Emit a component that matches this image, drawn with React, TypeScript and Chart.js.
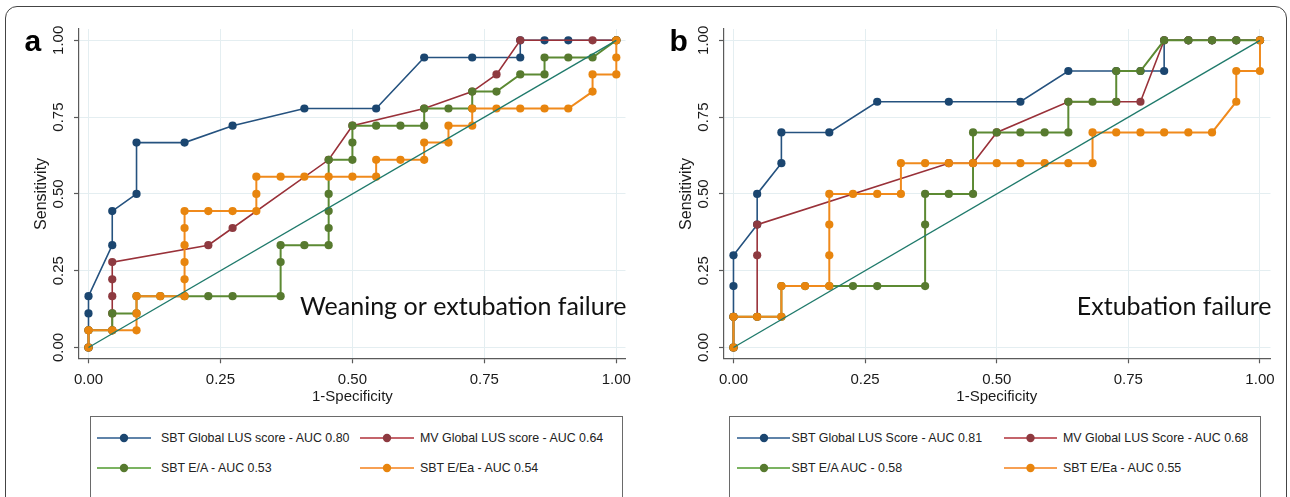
import React, { useEffect, useRef } from 'react';
import { Chart, registerables } from 'chart.js';

Chart.register(...registerables);

type Pt = [number, number];

// ---------- data ----------
const TICK_VALUES = [0, 0.25, 0.5, 0.75, 1];
const TICK_LABELS = ['0.00', '0.25', '0.50', '0.75', '1.00'];
const X_TITLE = '1-Specificity';
const Y_TITLE = 'Sensitivity';
const REF_LINE: Pt[] = [[0, 0], [1, 1]];

// Panel a: Weaning or extubation failure
const A_SBT_LUS: Pt[] = [
  [0, 0], [0, 0.111], [0, 0.167], [0.045, 0.333], [0.045, 0.444], [0.091, 0.5], [0.091, 0.667],
  [0.182, 0.667], [0.273, 0.722], [0.409, 0.778], [0.545, 0.778], [0.636, 0.944], [0.727, 0.944],
  [0.818, 0.944], [0.818, 1], [0.864, 1], [0.909, 1], [1, 1],
];
const A_MV_LUS: Pt[] = [
  [0, 0], [0, 0.056], [0.045, 0.056], [0.045, 0.111], [0.045, 0.167], [0.045, 0.222], [0.045, 0.278],
  [0.227, 0.333], [0.273, 0.389], [0.455, 0.611], [0.5, 0.722], [0.636, 0.778], [0.727, 0.833],
  [0.773, 0.889], [0.818, 1], [0.955, 1], [1, 1],
];
const A_SBT_EA: Pt[] = [
  [0, 0], [0, 0.056], [0.045, 0.056], [0.045, 0.111], [0.091, 0.111], [0.091, 0.167], [0.136, 0.167],
  [0.182, 0.167], [0.227, 0.167], [0.273, 0.167], [0.364, 0.167], [0.364, 0.278], [0.364, 0.333],
  [0.409, 0.333], [0.455, 0.333], [0.455, 0.389], [0.455, 0.444], [0.455, 0.5], [0.455, 0.611],
  [0.5, 0.611], [0.5, 0.667], [0.5, 0.722], [0.545, 0.722], [0.591, 0.722], [0.636, 0.722],
  [0.636, 0.778], [0.682, 0.778], [0.727, 0.778], [0.727, 0.833], [0.773, 0.833], [0.818, 0.889],
  [0.864, 0.889], [0.864, 0.944], [0.909, 0.944], [0.955, 0.944], [1, 1],
];
const A_SBT_EEA: Pt[] = [
  [0, 0], [0, 0.056], [0.045, 0.056], [0.091, 0.056], [0.091, 0.111], [0.091, 0.167], [0.136, 0.167],
  [0.182, 0.167], [0.182, 0.222], [0.182, 0.278], [0.182, 0.333], [0.182, 0.389], [0.182, 0.444],
  [0.227, 0.444], [0.273, 0.444], [0.318, 0.444], [0.318, 0.5], [0.318, 0.556], [0.364, 0.556],
  [0.409, 0.556], [0.455, 0.556], [0.5, 0.556], [0.545, 0.556], [0.545, 0.611], [0.591, 0.611],
  [0.636, 0.611], [0.636, 0.667], [0.682, 0.667], [0.682, 0.722], [0.727, 0.722], [0.727, 0.778],
  [0.773, 0.778], [0.818, 0.778], [0.864, 0.778], [0.909, 0.778], [0.955, 0.833], [0.955, 0.889],
  [1, 0.889], [1, 0.944], [1, 1],
];
const A_LEGEND = [
  'SBT Global LUS score - AUC 0.80',
  'MV Global LUS score - AUC 0.64',
  'SBT E/A - AUC 0.53',
  'SBT E/Ea - AUC 0.54',
];
const A_NOTE = 'Weaning or extubation failure';

// Panel b: Extubation failure
const B_SBT_LUS: Pt[] = [
  [0, 0], [0, 0.1], [0, 0.2], [0, 0.3], [0.045, 0.4], [0.045, 0.5], [0.091, 0.6], [0.091, 0.7],
  [0.182, 0.7], [0.273, 0.8], [0.409, 0.8], [0.545, 0.8], [0.636, 0.9], [0.727, 0.9], [0.773, 0.9],
  [0.818, 0.9], [0.818, 1], [0.864, 1], [0.909, 1], [0.955, 1], [1, 1],
];
const B_MV_LUS: Pt[] = [
  [0, 0], [0, 0.1], [0.045, 0.1], [0.045, 0.3], [0.045, 0.4], [0.409, 0.6], [0.455, 0.6], [0.5, 0.7],
  [0.636, 0.8], [0.727, 0.8], [0.773, 0.8], [0.818, 1], [0.864, 1], [0.909, 1], [0.955, 1], [1, 1],
];
const B_SBT_EA: Pt[] = [
  [0, 0], [0, 0.1], [0.045, 0.1], [0.091, 0.1], [0.091, 0.2], [0.136, 0.2], [0.182, 0.2], [0.227, 0.2],
  [0.273, 0.2], [0.364, 0.2], [0.364, 0.4], [0.364, 0.5], [0.409, 0.5], [0.455, 0.5], [0.455, 0.7],
  [0.5, 0.7], [0.545, 0.7], [0.591, 0.7], [0.636, 0.7], [0.636, 0.8], [0.682, 0.8], [0.727, 0.8],
  [0.727, 0.9], [0.773, 0.9], [0.818, 1], [0.864, 1], [0.909, 1], [0.955, 1], [1, 1],
];
const B_SBT_EEA: Pt[] = [
  [0, 0], [0, 0.1], [0.045, 0.1], [0.091, 0.1], [0.091, 0.2], [0.136, 0.2], [0.182, 0.2], [0.182, 0.3],
  [0.182, 0.4], [0.182, 0.5], [0.227, 0.5], [0.273, 0.5], [0.318, 0.5], [0.318, 0.6], [0.364, 0.6],
  [0.409, 0.6], [0.455, 0.6], [0.5, 0.6], [0.545, 0.6], [0.591, 0.6], [0.636, 0.6], [0.682, 0.6],
  [0.682, 0.7], [0.727, 0.7], [0.773, 0.7], [0.818, 0.7], [0.864, 0.7], [0.909, 0.7], [0.955, 0.8],
  [0.955, 0.9], [1, 0.9], [1, 1],
];
const B_LEGEND = [
  'SBT Global LUS Score - AUC 0.81',
  'MV Global LUS Score - AUC 0.68',
  'SBT E/A AUC - 0.58',
  'SBT E/Ea - AUC 0.55',
];
const B_NOTE = 'Extubation failure';

// ---------- styles ----------
const SERIES_STYLE = [
  { line: '#25527f', dot: '#1b4670', legendLine: '#2a5a8c', width: 1.6 },
  { line: '#993139', dot: '#8e3a40', legendLine: '#b0303a', width: 1.6 },
  { line: '#5c8a33', dot: '#577a2f', legendLine: '#4f9a2c', width: 2 },
  { line: '#f08a1c', dot: '#e8850e', legendLine: '#f5801a', width: 2 },
];
const REF_COLOR = '#1f7a6b';
const GRID = '#e4eef1';
const AXIS = '#5a5a5a';
const FONT = '"Liberation Sans", Arial, Helvetica, sans-serif';

const panelText = {
  id: 'panelText',
  afterDraw(chart: any, _args: any, opts: any) {
    const { ctx, chartArea: ca, scales } = chart;
    const xs = scales.x;
    const ys = scales.y;
    ctx.save();
    ctx.fillStyle = '#1a1a1a';
    ctx.font = `15px ${FONT}`;
    ctx.textAlign = 'center';
    ctx.textBaseline = 'middle';
    TICK_VALUES.forEach((v, i) => {
      ctx.fillText(TICK_LABELS[i], xs.getPixelForValue(v), ca.bottom + 22);
      ctx.save();
      ctx.translate(ca.left - 20.5, ys.getPixelForValue(v));
      ctx.rotate(-Math.PI / 2);
      ctx.fillText(TICK_LABELS[i], 0, 0);
      ctx.restore();
    });
    const xMid = (xs.getPixelForValue(0) + xs.getPixelForValue(1)) / 2;
    ctx.fillText(X_TITLE, xMid, ca.bottom + 39);
    const yMid = (ys.getPixelForValue(0) + ys.getPixelForValue(1)) / 2;
    ctx.save();
    ctx.translate(ca.left - 37.5, yMid);
    ctx.rotate(-Math.PI / 2);
    ctx.font = `16px ${FONT}`;
    ctx.fillText(Y_TITLE, 0, 0);
    ctx.restore();

    ctx.font = '25px Lato, "Open Sans", sans-serif';
    ctx.fillStyle = '#111';
    ctx.textAlign = 'right';
    ctx.textBaseline = 'alphabetic';
    ctx.fillText(opts.note, ca.right + 1, 315);

    ctx.font = `bold 30px ${FONT}`;
    ctx.fillStyle = '#000';
    ctx.textAlign = 'left';
    ctx.fillText(opts.letter, 24.5, 51);
    ctx.restore();
  },
};

type LegendLayout = { boxLeft: number; boxWidth: number; cols: { l0: number; l1: number; m: number; t: number }[] };

function Panel(props: {
  left: number;
  letter: string;
  note: string;
  series: Pt[][];
  labels: string[];
  xMax: number;
  legend: LegendLayout;
}) {
  const ref = useRef<HTMLCanvasElement>(null);
  useEffect(() => {
    if (!ref.current) return;
    const datasets: any[] = props.series.map((pts, i) => ({
      label: props.labels[i],
      data: pts.map(([x, y]) => ({ x, y })),
      showLine: true,
      borderColor: SERIES_STYLE[i].line,
      borderWidth: SERIES_STYLE[i].width,
      backgroundColor: SERIES_STYLE[i].dot,
      pointBackgroundColor: SERIES_STYLE[i].dot,
      pointBorderWidth: 0,
      pointRadius: 4.1,
      order: 4 - i,
    }));
    datasets.push({
      label: 'reference',
      data: REF_LINE.map(([x, y]) => ({ x, y })),
      showLine: true,
      borderColor: REF_COLOR,
      borderWidth: 1.4,
      pointRadius: 0,
      order: 0,
    });
    const axis = (min: number, max: number) => ({
      type: 'linear' as const,
      min,
      max,
      afterBuildTicks: (s: any) => {
        s.ticks = TICK_VALUES.map((v) => ({ value: v }));
      },
      ticks: { display: false },
      grid: { color: GRID, lineWidth: 1, drawTicks: true, tickLength: 5, tickColor: AXIS, tickWidth: 1.2 },
      border: { display: true, color: AXIS, width: 1.2 },
    });
    const chart = new Chart(ref.current, {
      type: 'scatter',
      data: { datasets },
      options: {
        responsive: false,
        animation: false,
        events: [],
        layout: { padding: { left: 74, top: 29, right: 19.5, bottom: 46.7 }, autoPadding: false },
        plugins: {
          legend: { display: false },
          tooltip: { enabled: false },
          panelText: { note: props.note, letter: props.letter },
        } as any,
        scales: {
          x: axis(-0.018, props.xMax),
          y: axis(-0.0352, 1.0368),
        },
      },
      plugins: [panelText],
    });
    return () => chart.destroy();
  }, []);

  const L = props.legend;
  const rows = [21, 51];
  return (
    <div style={{ position: 'absolute', left: props.left, top: 0, width: 645, height: 497 }}>
      <canvas ref={ref} width={645} height={410} style={{ position: 'absolute', left: 0, top: 0 }} />
      <div
        style={{
          position: 'absolute',
          left: L.boxLeft,
          top: 416,
          width: L.boxWidth,
          height: 110,
          border: '1px solid #6a6a6a',
          boxSizing: 'border-box',
        }}
      >
        {props.labels.map((lab, i) => {
          const c = L.cols[i % 2];
          const cy = rows[Math.floor(i / 2)];
          const st = SERIES_STYLE[i];
          return (
            <React.Fragment key={i}>
              <svg
                width={c.l1 - c.l0}
                height={10}
                style={{ position: 'absolute', left: c.l0, top: cy - 5 }}
              >
                <line x1={0} y1={5} x2={c.l1 - c.l0} y2={5} stroke={st.legendLine} strokeWidth={1.6} />
                <circle cx={c.m - c.l0} cy={5} r={4.2} fill={st.dot} />
              </svg>
              <span
                style={{
                  position: 'absolute',
                  left: c.t,
                  top: cy - 8,
                  lineHeight: '16px',
                  fontSize: '12.4px',
                  fontFamily: FONT,
                  color: '#222',
                  whiteSpace: 'nowrap',
                }}
              >
                {lab}
              </span>
            </React.Fragment>
          );
        })}
      </div>
    </div>
  );
}

const LEGEND_A: LegendLayout = {
  boxLeft: 90,
  boxWidth: 533,
  cols: [
    { l0: 6, l1: 60, m: 33, t: 70 },
    { l0: 269, l1: 323, m: 296, t: 329 },
  ],
};
const LEGEND_B: LegendLayout = {
  boxLeft: 84,
  boxWidth: 532,
  cols: [
    { l0: 7, l1: 60, m: 34, t: 61.5 },
    { l0: 274, l1: 327, m: 300.5, t: 333 },
  ],
};

export default function App() {
  return (
    <div
      style={{
        position: 'absolute',
        left: 0,
        top: 0,
        width: 1290,
        height: 497,
        overflow: 'hidden',
        background: '#fff',
      }}
    >
      <div
        style={{
          position: 'absolute',
          left: 5,
          top: 6,
          width: 1282,
          height: 540,
          border: '1.3px solid #444',
          borderRadius: 12,
          boxSizing: 'border-box',
        }}
      />
      <Panel
        left={0}
        letter="a"
        note={A_NOTE}
        series={[A_SBT_LUS, A_MV_LUS, A_SBT_EA, A_SBT_EEA]}
        labels={A_LEGEND}
        xMax={1.0174}
        legend={LEGEND_A}
      />
      <Panel
        left={645}
        letter="b"
        note={B_NOTE}
        series={[B_SBT_LUS, B_MV_LUS, B_SBT_EA, B_SBT_EEA]}
        labels={B_LEGEND}
        xMax={1.02}
        legend={LEGEND_B}
      />
    </div>
  );
}
